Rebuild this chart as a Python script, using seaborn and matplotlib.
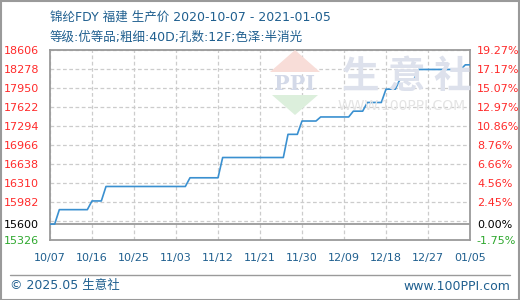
import matplotlib
matplotlib.use("Agg")
import matplotlib.pyplot as plt
import matplotlib.dates as mdates
from matplotlib.patches import Polygon, Rectangle
from matplotlib.lines import Line2D
import seaborn as sns
import pandas as pd

# ---- data ----
dates = ["2020-10-07", "2020-10-08", "2020-10-09", "2020-10-15", "2020-10-16",
         "2020-10-18", "2020-10-19", "2020-11-05", "2020-11-06", "2020-11-12",
         "2020-11-13", "2020-11-26", "2020-11-27", "2020-11-29", "2020-11-30",
         "2020-12-03", "2020-12-04", "2020-12-10", "2020-12-11", "2020-12-13",
         "2020-12-14", "2020-12-17", "2020-12-18", "2020-12-20", "2020-12-21",
         "2020-12-24", "2020-12-25", "2021-01-03", "2021-01-04", "2021-01-05"]
prices = [15600, 15600, 15850, 15850, 16000,
          16000, 16250, 16250, 16400, 16400,
          16750, 16750, 17150, 17150, 17380,
          17380, 17450, 17450, 17550, 17550,
          17700, 17700, 17930, 17930, 18100,
          18100, 18270, 18270, 18350, 18350]
base_price = 15600
grid_values = [18606, 18278, 17950, 17622, 17294, 16966, 16638, 16310, 15982, 15654, 15326]
left_tick_values = [18606, 18278, 17950, 17622, 17294, 16966, 16638, 16310, 15982, 15600, 15326]
left_tick_labels = ["18606", "18278", "17950", "17622", "17294", "16966", "16638", "16310", "15982", "15600", "15326"]
right_tick_labels = ["19.27%", "17.17%", "15.07%", "12.97%", "10.86%", "8.76%", "6.66%", "4.56%", "2.45%", "0.00%", "-1.75%"]
x_tick_dates = ["2020-10-07", "2020-10-16", "2020-10-25", "2020-11-03", "2020-11-12",
                "2020-11-21", "2020-11-30", "2020-12-09", "2020-12-18", "2020-12-27", "2021-01-05"]
title1 = "锦纶FDY 福建 生产价 2020-10-07 - 2021-01-05"
title2 = "等级:优等品;粗细:40D;孔数:12F;色泽:半消光"

df = pd.DataFrame({"date": pd.to_datetime(dates), "price": prices})

sns.set_style("white")
plt.rcParams["font.family"] = ["DejaVu Sans", "Noto Sans CJK SC"]

W, H = 520, 300
fig = plt.figure(figsize=(5.2, 3.0), dpi=100)
fig.patch.set_facecolor("white")
ax = fig.add_axes([50 / W, 60 / H, 420 / W, 190 / H])

BLUE_TXT = "#1f5f8f"
RED = "#ff2a2a"
GREEN = "#2ea82e"
GRAY = "#9a9a9a"

# watermark
fig.patches.append(Polygon([[270 / W, 1 - 72 / H], [320 / W, 1 - 72 / H], [295 / W, 1 - 50 / H]],
                           closed=True, transform=fig.transFigure, facecolor="#f8ddd8", edgecolor="none", zorder=0))
fig.patches.append(Polygon([[272 / W, 1 - 95 / H], [318 / W, 1 - 95 / H], [295 / W, 1 - 115 / H]],
                           closed=True, transform=fig.transFigure, facecolor="#dcefdc", edgecolor="none", zorder=0))
fig.text(295 / W, 1 - 84 / H, "PPI", ha="center", va="center", fontsize=15, fontweight="bold",
         color="#d3d9e8", family="DejaVu Serif", zorder=0)
fig.text(407 / W, 1 - 76 / H, "生 意 社", ha="center", va="center", fontsize=27, fontweight="bold",
         color="#dde1ec", family=["Noto Sans CJK SC"], zorder=0)
fig.text(402 / W, 1 - 106 / H, "WWW.100PPI.COM", ha="center", va="center", fontsize=10,
         color="#e4e4e4", zorder=0)
ax.set_facecolor("none")

sns.lineplot(data=df, x="date", y="price", ax=ax, color="#3a90d0", linewidth=1.2, zorder=3)

ax.set_ylim(15326, 18606)
ax.set_xlim(pd.Timestamp("2020-10-07"), pd.Timestamp("2021-01-05"))

for g in grid_values:
    ax.axhline(g, color="#cccccc", linestyle=(0, (3, 2)), linewidth=0.9, zorder=1)
for d in x_tick_dates:
    ax.axvline(pd.Timestamp(d), color="#cccccc", linestyle=(0, (3, 2)), linewidth=0.9, zorder=1)
ax.axhline(base_price, color=GRAY, linewidth=1.3, zorder=2)

ax.set_yticks(left_tick_values)
ax.set_yticklabels(left_tick_labels)
ax.set_xticks(pd.to_datetime(x_tick_dates))
ax.xaxis.set_major_formatter(mdates.DateFormatter("%m/%d"))
ax.tick_params(axis="y", length=0, pad=15, labelsize=8)
ax.tick_params(axis="x", length=0, pad=9, labelsize=8, labelcolor=BLUE_TXT)
for lbl in ax.get_yticklabels():
    lbl.set_horizontalalignment("left")
    lbl.set_x(-46 / 420)
ax.tick_params(axis="y", pad=0)
n = len(left_tick_labels)
for i, lbl in enumerate(ax.get_yticklabels()):
    lbl.set_color(RED if i < n - 2 else ("black" if i == n - 2 else GREEN))
ax.set_xlabel("")
ax.set_ylabel("")
for s in ax.spines.values():
    s.set_color(GRAY)
    s.set_linewidth(1.3)

ax2 = ax.twinx()
ax2.set_ylim(ax.get_ylim())
ax2.set_yticks(left_tick_values)
ax2.set_yticklabels(right_tick_labels)
ax2.tick_params(axis="y", length=0, pad=5, labelsize=8)
for i, lbl in enumerate(ax2.get_yticklabels()):
    lbl.set_color(RED if i < n - 2 else ("black" if i == n - 2 else GREEN))
for s in ax2.spines.values():
    s.set_visible(False)

# titles
fig.text(50 / W, 1 - 17 / H, title1, ha="left", va="center", fontsize=9, color=BLUE_TXT)
fig.text(50 / W, 1 - 37 / H, title2, ha="left", va="center", fontsize=9, color=BLUE_TXT)

# footer
fig.lines.append(Line2D([10 / W, 510 / W], [1 - 275 / H, 1 - 275 / H], transform=fig.transFigure,
                        color=GRAY, linewidth=1.0))
fig.text(10 / W, 1 - 286 / H, "© 2025.05 生意社", ha="left", va="center", fontsize=9, color=BLUE_TXT)
fig.text(510 / W, 1 - 286 / H, "www.100PPI.com", ha="right", va="center", fontsize=9, color=BLUE_TXT)

# outer frame
fig.patches.append(Rectangle((0.5 / W, 0.5 / H), 1 - 1.5 / W, 1 - 1.5 / H, transform=fig.transFigure,
                             fill=False, edgecolor=GRAY, linewidth=1.5))

fig.savefig("out.png", dpi=100)
